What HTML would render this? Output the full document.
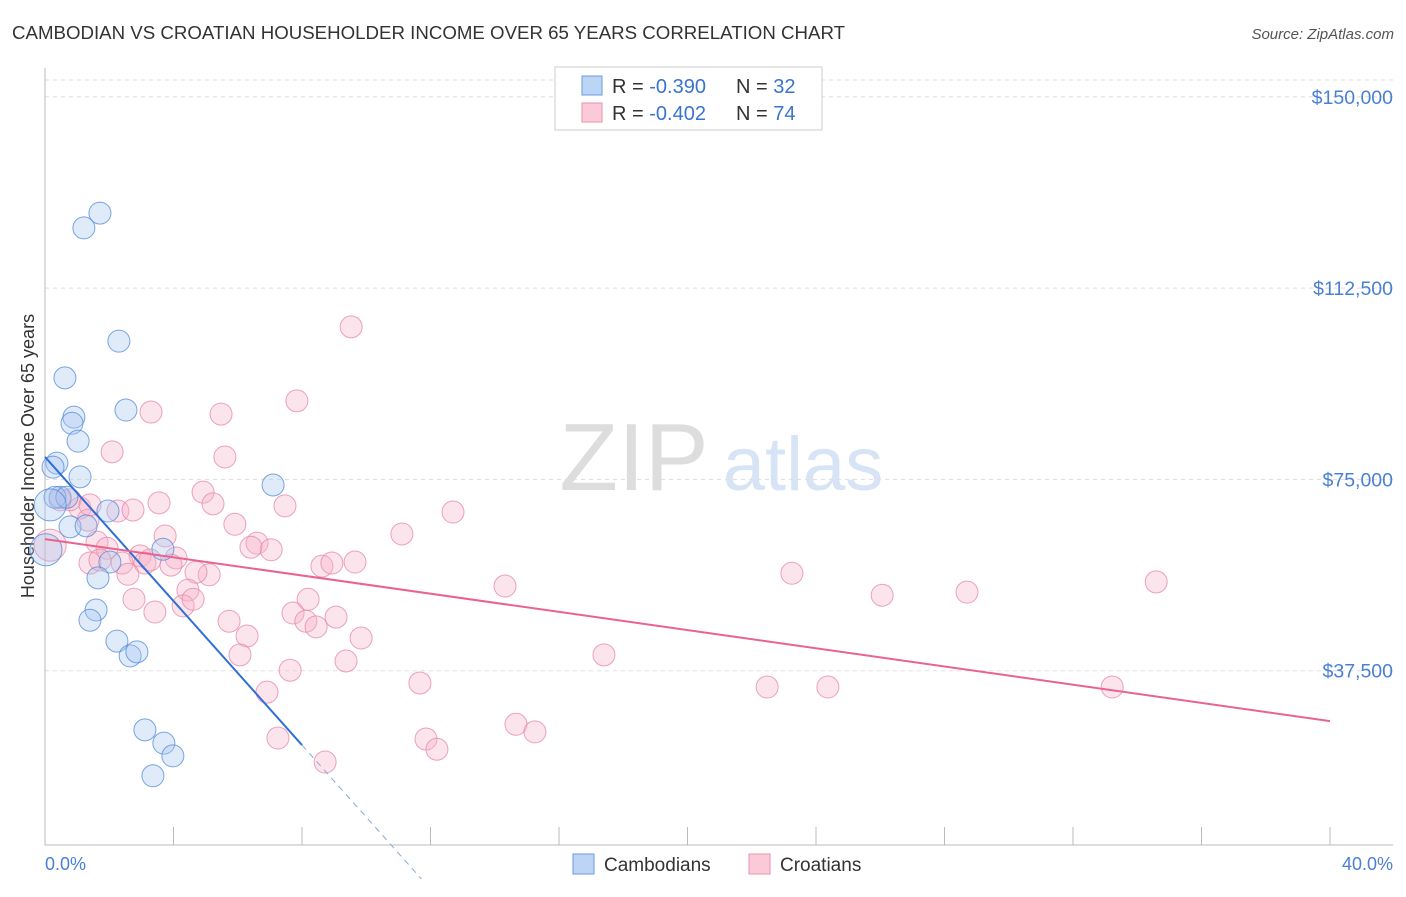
<!DOCTYPE html>
<html><head><meta charset="utf-8"><style>
body{margin:0;background:#fff;font-family:"Liberation Sans",sans-serif}
svg text{font-family:"Liberation Sans",sans-serif}
</style></head><body>
<svg id="chart" width="1406" height="892" xmlns="http://www.w3.org/2000/svg">
<text x="12" y="39" font-size="18" fill="#333" textLength="833" lengthAdjust="spacingAndGlyphs">CAMBODIAN VS CROATIAN HOUSEHOLDER INCOME OVER 65 YEARS CORRELATION CHART</text>
<text x="1394" y="39" font-size="15" fill="#555" text-anchor="end" font-style="italic">Source: ZipAtlas.com</text>
<g>
<text x="634" y="490" font-size="96" fill="#ddd" text-anchor="middle" font-family="Liberation Serif">ZIP</text>
<text x="803" y="490" font-size="76" fill="#d6e4f5" text-anchor="middle">atlas</text>
</g>
<g id="grid"></g>
<line x1="45" y1="68" x2="45" y2="845" stroke="#bbb"/>
<line x1="45" y1="845" x2="1393" y2="845" stroke="#bbb"/>
<g id="xticks"></g>
<text transform="translate(34,456) rotate(-90)" font-size="18" fill="#333" text-anchor="middle">Householder Income Over 65 years</text>
<text x="45" y="870" font-size="18" fill="#4a7fd4">0.0%</text>
<text x="1393" y="870" font-size="18" fill="#4a7fd4" text-anchor="end">40.0%</text>
<g id="pts"></g>
<g id="lines"></g>
<g>
<rect x="555" y="67" width="267" height="63" fill="#fff" stroke="#ccc"/>
<rect x="582" y="76" width="20" height="19" fill="#bcd5f5" stroke="#6a9ae0"/>
<rect x="582" y="103" width="20" height="19" fill="#fcc9d8" stroke="#e893ae"/>
<text x="612" y="93" font-size="20" fill="#333">R = <tspan fill="#3a74d0">-0.390</tspan></text>
<text x="736" y="93" font-size="20" fill="#333">N = <tspan fill="#3a74d0">32</tspan></text>
<text x="612" y="120" font-size="20" fill="#333">R = <tspan fill="#3a74d0">-0.402</tspan></text>
<text x="736" y="120" font-size="20" fill="#333">N = <tspan fill="#3a74d0">74</tspan></text>
</g>
<g>
<rect x="573" y="854" width="21" height="20" fill="#bcd5f5" stroke="#6a9ae0"/>
<text x="604" y="871" font-size="19" fill="#333">Cambodians</text>
<rect x="749" y="854" width="21" height="20" fill="#fcc9d8" stroke="#e893ae"/>
<text x="780" y="871" font-size="19" fill="#333">Croatians</text>
</g>
</svg>
<script>
const yTicks=[37500,75000,112500,150000];
const yTickLabels=["$37,500","$75,000","$112,500","$150,000"];
const xTicks=[0,4,8,12,16,20,24,28,32,36,40];
const blueX=[1.71,1.21,2.30,0.62,2.52,0.90,0.84,1.03,0.37,0.25,1.09,7.10,0.47,0.31,0.68,1.96,0.78,1.28,2.02,3.67,1.65,1.59,1.40,2.24,2.65,2.86,0.03,3.11,3.70,3.98,3.36,0.16];
const blueY=[127200,124300,102100,94900,88600,87200,86000,82500,78200,77400,75500,73900,71500,71500,71500,68800,65700,65900,58800,61300,55700,49400,47400,43300,40400,41200,61200,25900,23300,20800,16900,70000];
const pinkX=[9.53,7.84,3.30,5.48,2.09,5.60,4.92,3.55,5.23,7.47,12.70,2.27,1.09,0.78,5.91,3.74,11.11,1.62,6.60,7.04,6.41,1.93,2.96,4.08,1.40,2.40,3.11,3.92,5.11,2.58,4.70,8.62,9.65,8.93,14.32,23.25,34.59,26.06,28.70,4.45,2.77,4.30,4.61,3.42,8.19,7.72,9.06,8.12,8.44,5.73,6.29,9.84,6.07,17.40,9.37,7.63,6.91,11.67,22.48,24.37,33.22,7.25,14.66,11.86,15.25,12.20,8.72,0.16,0.47,1.34,2.74,1.71,3.27,1.40];
const pinkY=[104900,90400,88200,87800,80400,79400,72500,70400,70200,69800,68600,68800,69400,71000,66200,63900,64300,62700,62500,61200,61700,61500,60000,59600,58600,58600,58600,58200,56300,56400,56800,58000,58800,58600,54100,56600,54900,52300,52900,53300,51500,50200,51500,49000,51500,48800,48000,47200,46100,47200,44300,43900,40600,40600,39400,37600,33300,35100,34300,34300,34300,24300,27000,24100,25500,22100,19600,62100,71000,67000,69000,59200,59200,70000];
const blueTrend=[79400,-7060];
const pinkTrend=[63300,-892];
const NS="http://www.w3.org/2000/svg";
const xs=v=>45+v/40*1285;
const ys=v=>862-v/37500*191.3;
function mk(tag,attrs,parent){const e=document.createElementNS(NS,tag);for(const k in attrs)e.setAttribute(k,attrs[k]);document.getElementById(parent).appendChild(e);return e;}
yTicks.forEach((t,i)=>{
 const l=mk('line',{x1:45,x2:1393,y1:ys(t),y2:ys(t),stroke:'#ddd','stroke-dasharray':'4,4'},'grid');
 
 
 const tx=mk('text',{x:1393,y:ys(t)+7,'font-size':19.5,fill:'#4a7fd4','text-anchor':'end'},'grid');
 tx.textContent=yTickLabels[i];
 
 
});
const topL=mk('line',{x1:45,x2:1393,y1:80,y2:80,stroke:'#ddd','stroke-dasharray':'4,4'},'grid');


xTicks.forEach(t=>{
 const l=mk('line',{x1:xs(t),x2:xs(t),y1:827,y2:845,stroke:'#bbb'},'xticks');
 
 
});
function pts(X,Y,fill,stroke,name){
 X.forEach((x,i)=>{
  const r=(x<0.2)?16:11;
  const c=mk('circle',{cx:xs(x),cy:ys(Y[i]),r:r,fill:fill,'fill-opacity':0.35,stroke:stroke,'stroke-opacity':0.75,'stroke-width':1},'pts');
  
  
 });
}
pts(pinkX,pinkY,'#f7b3c8','#e585a5','croatian-point');
pts(blueX,blueY,'#a6c6f0','#5088d8','cambodian-point');
const bEnd=8;
const yBottom=-(862-845)/191.3*37500;
const bStop=(yBottom-blueTrend[0])/blueTrend[1];
const b1=mk('line',{x1:xs(0),y1:ys(blueTrend[0]),x2:xs(bEnd),y2:ys(blueTrend[0]+blueTrend[1]*bEnd),stroke:'#2f6fd6','stroke-width':2},'lines');


const b2=mk('line',{x1:xs(bEnd),y1:ys(blueTrend[0]+blueTrend[1]*bEnd),x2:xs(bStop),y2:ys(blueTrend[0]+blueTrend[1]*bStop),stroke:'#8aa8d8','stroke-width':1,'stroke-dasharray':'6,5'},'lines');


const p1=mk('line',{x1:xs(0),y1:ys(pinkTrend[0]),x2:xs(40),y2:ys(pinkTrend[0]+pinkTrend[1]*40),stroke:'#e8648f','stroke-width':2},'lines');


</script>
</body></html>
